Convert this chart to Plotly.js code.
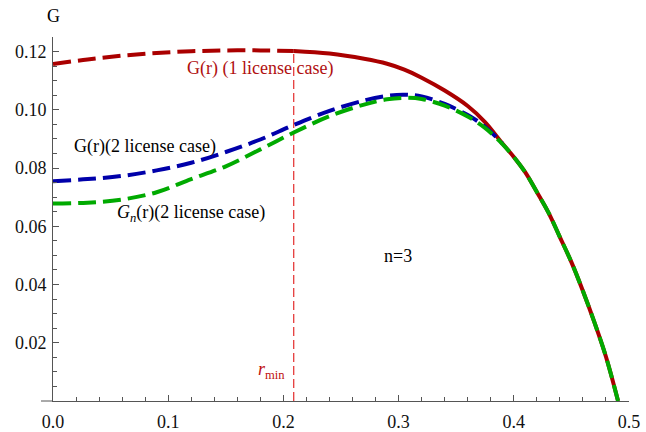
<!DOCTYPE html>
<html>
<head>
<meta charset="utf-8">
<script src="https://cdn.plot.ly/plotly-3.0.1.min.js"></script>
<style>
  html, body { margin: 0; padding: 0; background: #fff; }
  #chart { width: 646px; height: 432px; }
  #chart .xtick text, #chart .ytick text { font-family: "Liberation Serif", serif !important; }
</style>
</head>
<body>
<div id="chart"></div>
<script>
// r values (horizontal axis)
const r = [0, 0.03, 0.06, 0.09, 0.12, 0.15, 0.18, 0.209, 0.24, 0.27, 0.29, 0.305, 0.32, 0.34, 0.36, 0.375,
           0.39, 0.40, 0.41, 0.42, 0.43, 0.44, 0.45, 0.46, 0.47, 0.48, 0.4905];
// G(r), 1 license case
const g1 = [0.1157, 0.1173, 0.1186, 0.1195, 0.1201, 0.1204, 0.1204, 0.1202, 0.1193, 0.1175, 0.1158, 0.1138,
            0.1110, 0.1066, 0.1013, 0.0958, 0.0885, 0.0838, 0.0785, 0.0718, 0.0648, 0.0563, 0.0477, 0.0378,
            0.0270, 0.0152, 0.0];
// G(r), 2 license case
const g2 = [0.0755, 0.0762, 0.0773, 0.0792, 0.0818, 0.0855, 0.0898, 0.0948, 0.0996, 0.1032, 0.1048, 0.1052,
            0.1046, 0.1020, 0.0982, 0.0942, 0.0885, 0.0838, 0.0785, 0.0718, 0.0648, 0.0563, 0.0477, 0.0378,
            0.0270, 0.0152, 0.0];
// G_n(r), 2 license case
const gn = [0.0678, 0.0681, 0.0692, 0.0717, 0.0762, 0.0806, 0.0864, 0.0922, 0.0978, 0.1018, 0.1036, 0.1041,
            0.1037, 0.1014, 0.0977, 0.0938, 0.0883, 0.0838, 0.0785, 0.0718, 0.0648, 0.0563, 0.0477, 0.0378,
            0.0270, 0.0152, 0.0];
const rMin = 0.209;
const gAtRMin = 0.1202;
const rMerge = 0.39;   // where the 2-license curves join the 1-license curve
const xTicks = [0, 0.1, 0.2, 0.3, 0.4, 0.5];
const xTickText = ["0.0", "0.1", "0.2", "0.3", "0.4", "0.5"];
const yTicks = [0.02, 0.04, 0.06, 0.08, 0.10, 0.12];
const yTickText = ["0.02", "0.04", "0.06", "0.08", "0.10", "0.12"];

const iMin = r.indexOf(rMin);
const iMerge = r.indexOf(rMerge);
const serif = "Liberation Serif";
const RED = "#aa0000", BLUE = "#0000aa", GREEN = "#00aa00";
const DASH = "18px,7px";

const traces = [
  { x: r.slice(0, iMin + 1), y: g1.slice(0, iMin + 1), mode: "lines",
    line: { color: RED, width: 4, dash: DASH, shape: "spline" } },
  { x: r.slice(iMin), y: g1.slice(iMin), mode: "lines",
    line: { color: RED, width: 4, shape: "spline" } },
  { x: r.slice(0, iMerge + 1), y: g2.slice(0, iMerge + 1), mode: "lines",
    line: { color: BLUE, width: 4, dash: DASH, shape: "spline" } },
  { x: r, y: gn, mode: "lines", line: { color: GREEN, width: 4, dash: DASH, shape: "spline" } }
];

const axisColor = "#555";
const tickFont = { family: serif, size: 18, color: "#111" };
const layout = {
  width: 646, height: 432,
  margin: { l: 53, r: 17, t: 37, b: 31 },
  paper_bgcolor: "#fff", plot_bgcolor: "#fff",
  showlegend: false,
  font: { family: serif, size: 18, color: "#000" },
  xaxis: {
    range: [0, 0.5], showgrid: false, zeroline: false,
    showline: true, linecolor: axisColor, linewidth: 1,
    tickmode: "array", tickvals: xTicks, ticktext: xTickText,
    ticks: "inside", ticklen: 6, tickcolor: axisColor, tickwidth: 1,
    ticklabelstandoff: 4,
    minor: { tickmode: "linear", tick0: 0, dtick: 0.02, ticks: "inside", ticklen: 4, tickcolor: axisColor },
    tickfont: tickFont
  },
  yaxis: {
    range: [0, 0.125], showgrid: false, zeroline: false,
    showline: true, linecolor: axisColor, linewidth: 1,
    tickmode: "array", tickvals: yTicks, ticktext: yTickText,
    ticks: "inside", ticklen: 6, tickcolor: axisColor, tickwidth: 1,
    ticklabelstandoff: 2,
    minor: { tickmode: "linear", tick0: 0, dtick: 0.005, ticks: "inside", ticklen: 4, tickcolor: axisColor },
    tickfont: tickFont
  },
  shapes: [
    { type: "line", xref: "paper", yref: "paper", x0: -12 / 576, x1: 0, y0: 0, y1: 0,
      line: { color: axisColor, width: 1 } },
    { type: "line", xref: "x", yref: "y", x0: rMin, x1: rMin, y0: 0, y1: gAtRMin,
      line: { color: "#dd0000", width: 1, dash: "9px,4px" }, layer: "below" }
  ],
  annotations: [
    { text: "G", x: 0, y: 1.059, xref: "paper", yref: "paper", xanchor: "center", yanchor: "middle", showarrow: false,
      font: { family: serif, size: 18, color: "#000" } },
    { text: "G(r) (1 license case)", x: 0.1798, y: 0.1142, xref: "x", yref: "y", showarrow: false,
      font: { family: serif, size: 18, color: "#b01010" } },
    { text: "G(r)(2 license case)", x: 0.0797, y: 0.0875, xref: "x", yref: "y", showarrow: false,
      font: { family: serif, size: 18, color: "#000" } },
    { text: "<i>G</i><sub><i>n</i></sub>(r)(2 license case)", x: 0.1197, y: 0.0645, xref: "x", yref: "y", showarrow: false,
      font: { family: serif, size: 18, color: "#000" } },
    { text: "n=3", x: 0.2999, y: 0.0497, xref: "x", yref: "y", showarrow: false,
      font: { family: serif, size: 18, color: "#000" } },
    { text: "<i>r</i><sub>min</sub>", x: 0.1896, y: 0.0105, xref: "x", yref: "y", showarrow: false,
      font: { family: serif, size: 18, color: "#c01010" } }
  ]
};

Plotly.newPlot("chart", traces, layout, { displayModeBar: false, staticPlot: true });
</script>
</body>
</html>
